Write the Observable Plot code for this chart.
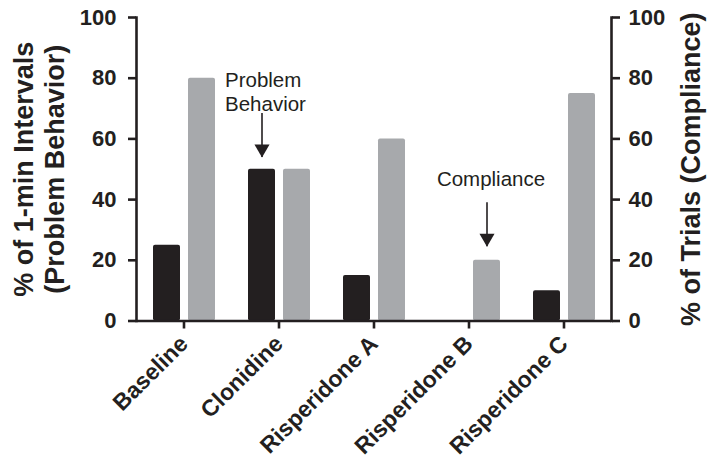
<!DOCTYPE html>
<html>
<head>
<meta charset="utf-8">
<script src="https://cdn.jsdelivr.net/npm/d3@7"></script>
<script src="https://cdn.jsdelivr.net/npm/@observablehq/plot@0.6"></script>
<style>
  html, body { margin: 0; padding: 0; background: #fff; }
  #chart svg { display: block; }
</style>
</head>
<body>
<div id="chart"></div>
<script>
// ---- data ----
const categories = ["Baseline", "Clonidine", "Risperidone A", "Risperidone B", "Risperidone C"];
const seriesNames = ["Problem Behavior", "Compliance"];
const problemBehavior = [25, 50, 15, 0, 10];
const compliance = [80, 50, 60, 20, 75];
const yTicks = [0, 20, 40, 60, 80, 100];
const leftTitle = "% of 1-min Intervals\n(Problem Behavior)";
const rightTitle = "% of Trials (Compliance)";
// annotations: category, series, label, label top value, arrow start value, arrow tip value
const annCats = ["Clonidine", "Risperidone B"];
const annSeries = ["Problem Behavior", "Compliance"];
const annLabels = ["Problem\nBehavior", "Compliance"];
const annLabelTop = [83, 49.4];
const annFrom = [68.4, 39];
const annTo = [53.9, 24.5];

const rows = categories.flatMap((c, i) => [
  {cat: c, series: seriesNames[0], value: problemBehavior[i]},
  {cat: c, series: seriesNames[1], value: compliance[i]}
]);
const ann = annCats.map((c, i) => ({cat: c, series: annSeries[i], label: annLabels[i], top: annLabelTop[i], from: annFrom[i], to: annTo[i]}));

const BLACK = "#231f20", GRAY = "#a7a9ac";
const AXW = 2.6;

const chart = Plot.plot({
  width: 709,
  height: 458,
  marginTop: 17,
  marginBottom: 137.5,
  marginLeft: 134,
  marginRight: 96,
  style: {fontFamily: "'Liberation Sans', Arial, sans-serif", fontSize: "21px", color: BLACK, background: "#fff"},
  fx: {domain: categories, padding: 0},
  x: {domain: seriesNames, paddingInner: 0.222, paddingOuter: 0.4415, align: 0.53, axis: null},
  y: {domain: [0, 100]},
  color: {domain: seriesNames, range: [BLACK, GRAY]},
  marks: [
    Plot.barY(rows, {fx: "cat", x: "series", y: "value", fill: "series", rx: 2}),
    Plot.ruleY([0], {stroke: BLACK, strokeWidth: AXW}),
    Plot.frame({anchor: "left", facetAnchor: "left", stroke: BLACK, strokeWidth: AXW}),
    Plot.frame({anchor: "right", facetAnchor: "right", stroke: BLACK, strokeWidth: AXW}),
    Plot.axisY({anchor: "left", ticks: yTicks, tickSize: 8, tickPadding: 12, strokeWidth: AXW,
      fontSize: 22, fontWeight: "bold", label: null}),
    Plot.axisY({anchor: "right", ticks: yTicks, tickSize: 8, tickPadding: 9, strokeWidth: AXW,
      fontSize: 22, fontWeight: "bold", label: null}),
    Plot.axisFx({anchor: "bottom", tickSize: 8, tickPadding: 11, tickRotate: -45, strokeWidth: AXW,
      fontSize: 23, fontWeight: "bold", label: null}),
    Plot.text([leftTitle], {frameAnchor: "left", facetAnchor: "left", rotate: -90, dx: -98, textAnchor: "middle",
      fontSize: 27, fontWeight: "bold", lineHeight: 1.15, lineAnchor: "middle", fill: BLACK}),
    Plot.text([rightTitle], {frameAnchor: "right", facetAnchor: "right", rotate: -90, dx: 80, textAnchor: "middle",
      fontSize: 27, fontWeight: "bold", lineAnchor: "middle", fill: BLACK}),
    // annotations
    Plot.ruleX(ann, {fx: "cat", x: "series", y1: "from", y2: "to", stroke: BLACK, strokeWidth: 1.6}),
    Plot.dot(ann, {fx: "cat", x: "series", y: "to", symbol: "triangle", rotate: 180, r: 5.6, dy: -8.6, fill: BLACK, stroke: "none"}),
    Plot.text(ann.slice(0, 1), {fx: "cat", x: "series", y: "top", text: "label", textAnchor: "start", lineAnchor: "top",
      dx: -37, fontSize: 20.5, lineHeight: 1.2, fill: BLACK}),
    Plot.text(ann.slice(1), {fx: "cat", x: "series", y: "top", text: "label", textAnchor: "middle", lineAnchor: "top",
      dx: 4, fontSize: 20.5, fill: BLACK})
  ]
});
document.getElementById("chart").appendChild(chart);
</script>
</body>
</html>
